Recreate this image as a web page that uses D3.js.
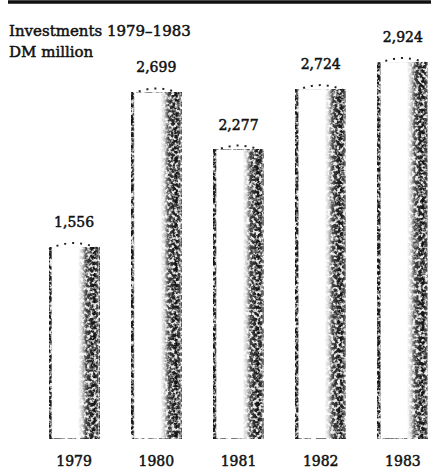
<!DOCTYPE html>
<html>
<head>
<meta charset="utf-8">
<script src="https://cdn.jsdelivr.net/npm/d3@7"></script>
<style>
  body { margin: 0; background: #fff; }
  text { font-family: "DejaVu Serif", serif; fill: #111; }
</style>
</head>
<body>
<svg width="431" height="470"></svg>
<script>
var years = ["1979", "1980", "1981", "1982", "1983"];
var investments = [1556, 2699, 2277, 2724, 2924];
var valueLabels = ["1,556", "2,699", "2,277", "2,724", "2,924"];
var titleLines = ["Investments 1979\u20131983", "DM million"];

var data = years.map(function(y, i) {
    return {year: y, value: investments[i], label: valueLabels[i]};
});

var svg = d3.select("svg");

var x = d3.scaleBand().domain(years).range([33, 444]).paddingInner(0.39).paddingOuter(0.195),
    y = d3.scaleLinear().domain([0, 3000]).range([452.4, 46.8]);

var bottom = y(0) - 14;

var defs = svg.append("defs");

var grad = defs.append("linearGradient").attr("id", "cyl")
    .attr("x1", 0).attr("x2", 1).attr("y1", 0).attr("y2", 0);
[[0, "#111"], [0.04, "#222"], [0.07, "#fff"], [0.58, "#fff"], [0.66, "#ccc"],
 [0.74, "#444"], [0.9, "#111"], [0.97, "#444"], [1, "#bbb"]].forEach(function(s) {
    grad.append("stop").attr("offset", s[0]).attr("stop-color", s[1]);
});

// speckle the shading so it looks like the halftone print
var f = defs.append("filter").attr("id", "speckle")
    .attr("x", 0).attr("y", 0).attr("width", 1).attr("height", 1)
    .attr("color-interpolation-filters", "sRGB");
f.append("feTurbulence").attr("type", "fractalNoise").attr("baseFrequency", "0.32")
    .attr("numOctaves", 2).attr("seed", 7).attr("result", "noise");
f.append("feColorMatrix").attr("in", "noise").attr("type", "matrix")
    .attr("values", "4 0 0 0 -1.7  4 0 0 0 -1.7  4 0 0 0 -1.7  0 0 0 0 1")
    .attr("result", "n");
f.append("feComposite").attr("in", "SourceGraphic").attr("in2", "n")
    .attr("operator", "arithmetic")
    .attr("k1", -0.9).attr("k2", 1).attr("k3", 0.9).attr("k4", 0);

// rule at the top
svg.append("line")
    .attr("x1", 8).attr("x2", 431).attr("y1", 2).attr("y2", 2)
    .attr("stroke", "#111").attr("stroke-width", 3.5);

svg.selectAll(".title")
    .data(titleLines)
  .enter().append("text")
    .attr("class", "title")
    .attr("x", 9)
    .attr("y", function(d, i) { return 36 + i * 21; })
    .style("font-size", "15px")
    .style("stroke", "#111").style("stroke-width", 0.5)
    .text(function(d) { return d; });

var bar = svg.selectAll(".bar")
    .data(data)
  .enter().append("g")
    .attr("class", "bar");

bar.append("rect")
    .attr("x", function(d) { return x(d.year); })
    .attr("y", function(d) { return y(d.value) + 5; })
    .attr("width", x.bandwidth())
    .attr("height", function(d) { return bottom - y(d.value) - 5; })
    .attr("fill", "url(#cyl)")
    .attr("filter", "url(#speckle)");

bar.append("path")
    .attr("d", function(d) {
        var l = x(d.year), r = l + x.bandwidth(), t = y(d.value);
        return "M" + l + "," + (t + 7) + " Q" + (l + x.bandwidth() / 2) + "," + (t - 5) + " " + r + "," + (t + 7);
    })
    .attr("fill", "none")
    .attr("stroke", "#222")
    .attr("stroke-width", 2)
    .attr("stroke-dasharray", "2 6");

bar.append("text")
    .attr("x", function(d) { return x(d.year) + x.bandwidth() / 2; })
    .attr("y", function(d) { return y(d.value) - 15; })
    .attr("text-anchor", "middle")
    .style("font-size", "14px")
    .style("stroke", "#111").style("stroke-width", 0.5)
    .text(function(d) { return d.label; });

svg.append("g")
    .attr("transform", "translate(0," + (bottom + 28) + ")")
    .call(d3.axisBottom(x).tickSize(0).tickPadding(0))
    .call(function(g) { g.select(".domain").remove(); })
    .selectAll("text")
    .attr("dy", 0)
    .style("font-family", "DejaVu Serif, serif")
    .style("font-size", "14px")
    .style("fill", "#111")
    .style("stroke", "#111").style("stroke-width", 0.5);
</script>
</body>
</html>
